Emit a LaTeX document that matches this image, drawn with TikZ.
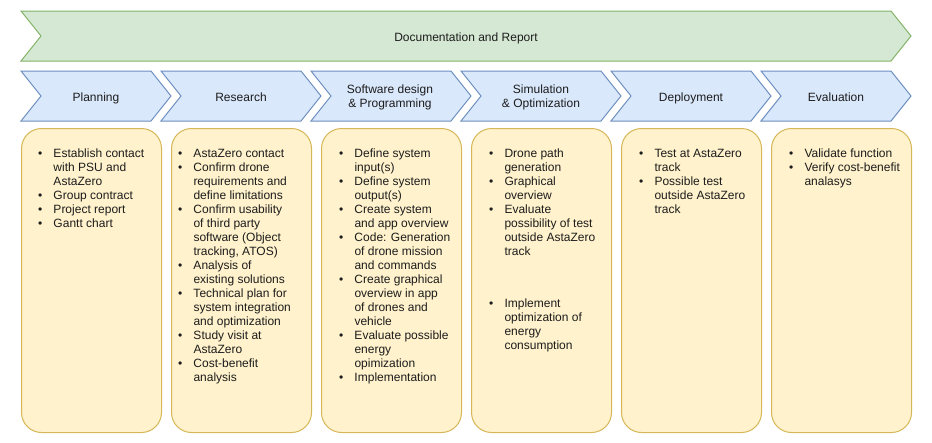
\documentclass[tikz,border=0pt]{standalone}
\usepackage{fontspec}
\setmainfont{Liberation Sans}
\definecolor{gfill}{HTML}{D5E8D4}
\definecolor{gline}{HTML}{82B366}
\definecolor{bfill}{HTML}{DAE8FC}
\definecolor{bline}{HTML}{6C8EBF}
\definecolor{yfill}{HTML}{FFF2CC}
\definecolor{yline}{HTML}{D6B656}
\definecolor{txt}{HTML}{1C1C1C}
\newcommand\mychev[5]{\draw[#5] (#1,#3) -- ({#2-20},#3) -- (#2,{(#3+#4)/2}) -- ({#2-20},#4) -- (#1,#4) -- ({#1+20},{(#3+#4)/2}) -- cycle;}
\newcommand\bl{\makebox[15.4pt][l]{\textbullet}}
\newcommand\ct{\hspace*{15.4pt}}
\begin{document}
\begin{tikzpicture}[x=1pt,y=-1pt,
  gchev/.style={fill=gfill,draw=gline,line width=1pt,line join=miter},
  bchev/.style={fill=bfill,draw=bline,line width=1pt,line join=miter},
  ybox/.style={fill=yfill,draw=yline,line width=1pt,rounded corners=20pt,minimum width=140pt,minimum height=304pt,anchor=north west,inner sep=0pt},
  lbl/.style={font=\fontsize{12}{14}\selectfont,text=txt,inner sep=0pt,anchor=base},
  lst/.style={font=\fontsize{12}{14}\selectfont,text=txt,inner sep=0pt,anchor=base west}]
\useasboundingbox (0,0) rectangle (932,442);
% top band
\mychev{21}{911}{11}{61}{gchev}
\node[lbl] (doc) at (466,41.3) {Documentation and Report};
% phase chevrons
\mychev{21}{171}{71}{121}{bchev}
\mychev{161}{321}{71}{121}{bchev}
\mychev{311}{471}{71}{121}{bchev}
\mychev{461}{621}{71}{121}{bchev}
\mychev{611}{771}{71}{121}{bchev}
\mychev{761}{911}{71}{121}{bchev}
\node[lbl] (p1) at (96,101) {Planning};
\node[lbl] (p2) at (241,101) {Research};
\node[lbl] (p3) at (390,93.6) {\begin{tabular}[t]{@{}c@{}}Software design\\\& Programming\end{tabular}};
\node[lbl] (p4) at (541,93.6) {\begin{tabular}[t]{@{}c@{}}Simulation\\\& Optimization\end{tabular}};
\node[lbl] (p5) at (691,101) {Deployment};
\node[lbl] (p6) at (836,101) {Evaluation};
% boxes
\node[ybox] (b1) at (21,128) {};
\node[ybox] (b2) at (171,128) {};
\node[ybox] (b3) at (321,128) {};
\node[ybox] (b4) at (471,128) {};
\node[ybox] (b5) at (621,128) {};
\node[ybox] (b6) at (771,128) {};
% lists
\node[lst] (t1) at (37.9,157) {\begin{tabular}[t]{@{}l@{}}
\bl Establish contact\\ \ct with PSU and\\ \ct AstaZero\\
\bl Group contract\\ \bl Project report\\ \bl Gantt chart
\end{tabular}};
\node[lst] (t2) at (177.9,157) {\begin{tabular}[t]{@{}l@{}}
\bl AstaZero contact\\
\bl Confirm drone\\ \ct requirements and\\ \ct define limitations\\
\bl Confirm usability\\ \ct of third party\\ \ct software (Object\\ \ct tracking, ATOS)\\
\bl Analysis of\\ \ct existing solutions\\
\bl Technical plan for\\ \ct system integration\\ \ct and optimization\\
\bl Study visit at\\ \ct AstaZero\\
\bl Cost-benefit\\ \ct analysis
\end{tabular}};
\node[lst] (t3) at (338.9,157) {\begin{tabular}[t]{@{}l@{}}
\bl Define system\\ \ct input(s)\\
\bl Define system\\ \ct output(s)\\
\bl Create system\\ \ct and app overview\\
\bl Code: Generation\\ \ct of drone mission\\ \ct and commands\\
\bl Create graphical\\ \ct overview in app\\ \ct of drones and\\ \ct vehicle\\
\bl Evaluate possible\\ \ct energy\\ \ct opimization\\
\bl Implementation
\end{tabular}};
\node[lst] (t4) at (488.9,157) {\begin{tabular}[t]{@{}l@{}}
\bl Drone path\\ \ct generation\\
\bl Graphical\\ \ct overview\\
\bl Evaluate\\ \ct possibility of test\\ \ct outside AstaZero\\ \ct track\\[38pt]
\bl Implement\\ \ct optimization of\\ \ct energy\\ \ct consumption
\end{tabular}};
\node[lst] (t5) at (638.9,157) {\begin{tabular}[t]{@{}l@{}}
\bl Test at AstaZero\\ \ct track\\
\bl Possible test\\ \ct outside AstaZero\\ \ct track
\end{tabular}};
\node[lst] (t6) at (788.9,157) {\begin{tabular}[t]{@{}l@{}}
\bl Validate function\\
\bl Verify cost-benefit\\ \ct analasys
\end{tabular}};
\end{tikzpicture}
\end{document}
